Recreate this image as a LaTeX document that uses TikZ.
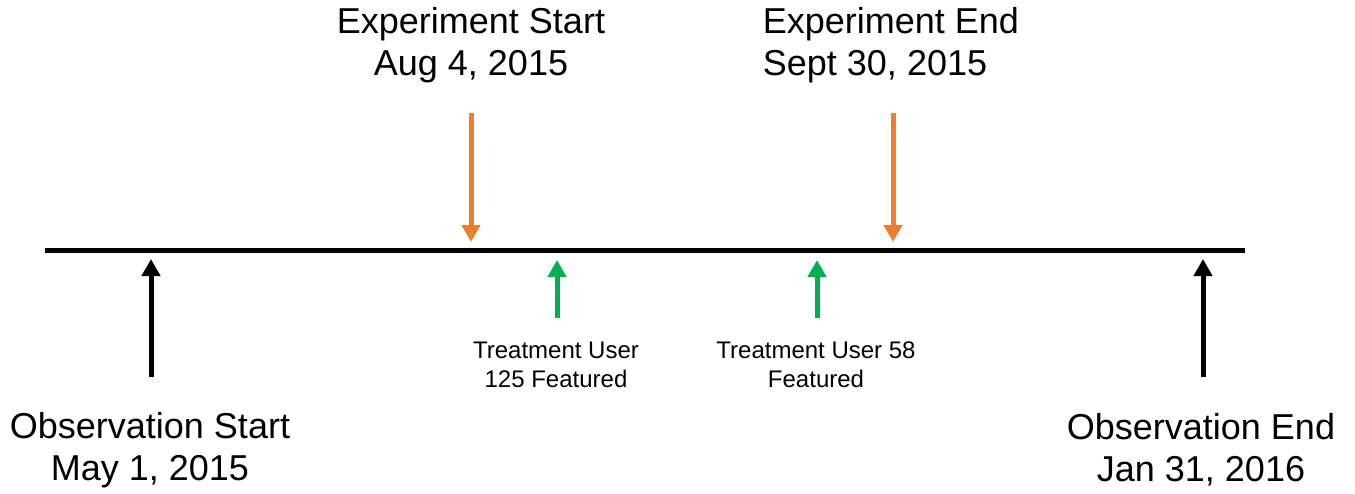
\documentclass[tikz,border=0pt]{standalone}
\usepackage{fontspec}
\setmainfont{Liberation Sans}
\usetikzlibrary{arrows.meta}
\definecolor{expor}{HTML}{ED7D31}
\definecolor{featgr}{HTML}{00B050}
\tikzset{
  big/.style={align=center, font=\fontsize{36}{42}\selectfont, inner sep=0pt},
  small/.style={align=center, font=\fontsize{24}{29}\selectfont, inner sep=0pt},
  marker/.style={line width=5pt, -{Triangle[width=18pt,length=17pt]}},
}
\begin{document}
\begin{tikzpicture}[x=1pt,y=-1pt]
\useasboundingbox (0,0) rectangle (1355,493);
% timeline
\coordinate (tl) at (45,250);
\coordinate (tr) at (1245,250);
\draw[line width=5pt] (tl) -- (tr);
% labels
\node[big] (es) at (471,45) {Experiment Start\\Aug 4, 2015};
\node[big, align=left] (ee) at (891,45) {Experiment End\\Sept 30, 2015};
\node[big] (os) at (150,450) {Observation Start\\May 1, 2015};
\node[big] (oe) at (1201,450) {Observation End\\Jan 31, 2016};
\node[small] (t1) at (556,365) {Treatment User\\125 Featured};
\node[small] (t2) at (816,365) {Treatment User 58\\Featured};
% arrow endpoints
\coordinate (esA) at (471,113); \coordinate (esB) at (471,242);
\coordinate (eeA) at (893,113); \coordinate (eeB) at (893,242);
\coordinate (g1A) at (557,318); \coordinate (g1B) at (557,260);
\coordinate (g2A) at (817,318); \coordinate (g2B) at (817,260);
\coordinate (osA) at (151,377); \coordinate (osB) at (151,259);
\coordinate (oeA) at (1203,377); \coordinate (oeB) at (1203,259);
\draw[marker, expor] (esA) -- (esB);
\draw[marker, expor] (eeA) -- (eeB);
\draw[marker, featgr] (g1A) -- (g1B);
\draw[marker, featgr] (g2A) -- (g2B);
\draw[marker, black] (osA) -- (osB);
\draw[marker, black] (oeA) -- (oeB);
\end{tikzpicture}
\end{document}
